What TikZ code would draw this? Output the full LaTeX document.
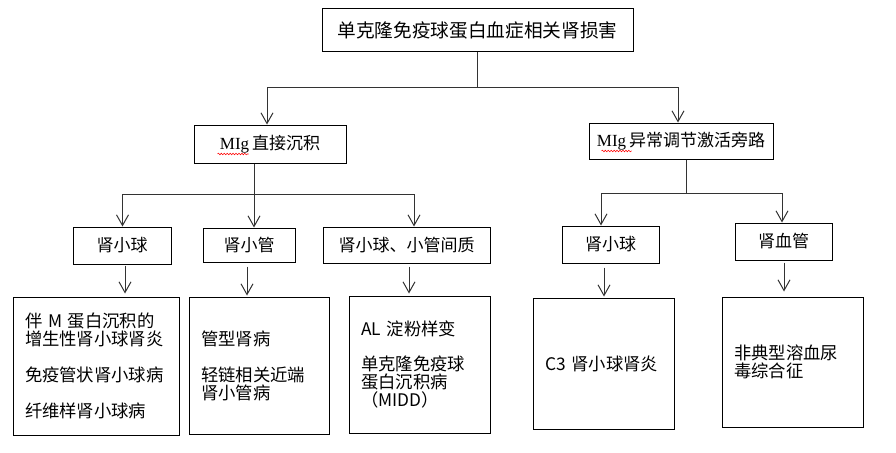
\documentclass[tikz,border=0pt]{standalone}
\usepackage{fontspec}
\setmainfont{Noto Sans CJK SC}
\newfontfamily\latinserif{Liberation Serif}
\usetikzlibrary{arrows.meta,calc,decorations.pathmorphing}
\begin{document}
\begin{tikzpicture}[x=0.75pt,y=-0.75pt,
  box/.style={draw=black,line width=0.75pt,inner sep=0pt,align=center},
  topbox/.style={box,font=\fontsize{14}{16}\selectfont},
  midbox/.style={box,font=\fontsize{12.75}{15}\selectfont},
  bigbox/.style={draw=black,line width=0.75pt,inner xsep=9pt,inner ysep=0pt,align=left,font=\fontsize{13}{13.5}\selectfont},
  conn/.style={draw=black!80,line width=0.75pt},
  arr/.style={conn,-{Straight Barb[length=8pt,width=9pt]}},
  wavy/.style={draw=red,line width=0.4pt,decorate,decoration={snake,amplitude=0.6pt,segment length=2.2pt}}
]
\useasboundingbox (0,0) rectangle (896,453);

% level 0
\node[topbox,minimum width=233.25pt,minimum height=32.25pt] (top) at (477.5,30.5) {单克隆免疫球蛋白血症相关肾损害};

% level 1
\node[midbox,minimum width=114pt,minimum height=28.5pt] (mig1) at (270,144) {{\latinserif MIg}\,直接沉积};
\node[midbox,minimum width=138pt,minimum height=27pt] (mig2) at (681,141) {{\latinserif MIg}\,异常调节激活旁路};

% level 2
\node[midbox,minimum width=73.5pt,minimum height=27.75pt] (k1) at (122,245.5) {肾小球};
\node[midbox,minimum width=69pt,minimum height=25.5pt] (k2) at (249,245) {肾小管};
\node[midbox,minimum width=125.25pt,minimum height=27pt] (k3) at (406.5,245) {肾小球、小管间质};
\node[midbox,minimum width=72.75pt,minimum height=27.75pt] (r1) at (610.5,244.5) {肾小球};
\node[midbox,minimum width=72.75pt,minimum height=27.75pt] (r2) at (783.5,241.5) {肾血管};

% level 3
\node[bigbox,text width=106.5pt,minimum height=103.5pt] (d1) at (96,366)
  {伴 M 蛋白沉积的\\增生性肾小球肾炎\\[13.5pt]免疫管状肾小球病\\[13.5pt]纤维样肾小球病};
\node[bigbox,text width=87pt,minimum height=102.75pt] (d2) at (259,365.5)
  {管型肾病\\[13.5pt]轻链相关近端\\肾小管病};
\node[bigbox,text width=87.75pt,minimum height=102.75pt] (d3) at (419.5,364.5)
  {AL 淀粉样变\\[12.75pt]单克隆免疫球\\蛋白沉积病\\（MIDD）};
\node[bigbox,text width=87.75pt,minimum height=98.25pt] (d4) at (603.5,363.5)
  {C3 肾小球肾炎};
\node[bigbox,text width=87.75pt,minimum height=97.5pt] (d5) at (792.5,362)
  {非典型溶血尿\\毒综合征};

% spell-check underlines
\draw[wavy] ($(mig1.west)+(24,10)$) -- ($(mig1.west)+(55,10)$);
\draw[wavy] ($(mig2.west)+(13,10)$) -- ($(mig2.west)+(43,10)$);

% connectors level 0 -> 1
\coordinate (t1) at ($(top.south)+(0,35)$);
\draw[conn] (top.south) -- (t1);
\draw[arr] (t1) -| ($(mig1.north)+(-3,0)$);
\draw[arr] (t1) -| ($(mig2.north)+(-3,0)$);

% connectors level 1 -> 2
\coordinate (m1) at ($(mig1.south)+(-16,31)$);
\draw[conn] ($(mig1.south)+(-16,0)$) -- (m1);
\draw[arr] (m1) -| ($(k1.north)+(0.5,0)$);
\draw[arr] (m1) -- ($(k2.north)+(5,0)$);
\draw[arr] (m1) -| ($(k3.north)+(7.5,0)$);

\coordinate (m2) at ($(mig2.south)+(5,34)$);
\draw[conn] ($(mig2.south)+(5,0)$) -- (m2);
\draw[arr] (m2) -| ($(r1.north)+(-9.5,0)$);
\draw[arr] (m2) -| ($(r2.north)+(-1.5,0)$);

% connectors level 2 -> 3
\draw[arr] ($(k1.south)+(3,1)$) -- ($(d1.north)+(29,-3)$);
\draw[arr] ($(k2.south)+(-2,4)$) -- ($(d2.north)+(-12,-1)$);
\draw[arr] ($(k3.south)+(2.5,3)$) -- ($(d3.north)+(-10.5,-2)$);
\draw[arr] ($(r1.south)+(-6.5,4)$) -- ($(d4.north)+(0.5,-1)$);
\draw[arr] ($(r2.south)+(0.5,2)$) -- ($(d5.north)+(-8.5,-5)$);
\end{tikzpicture}
\end{document}
